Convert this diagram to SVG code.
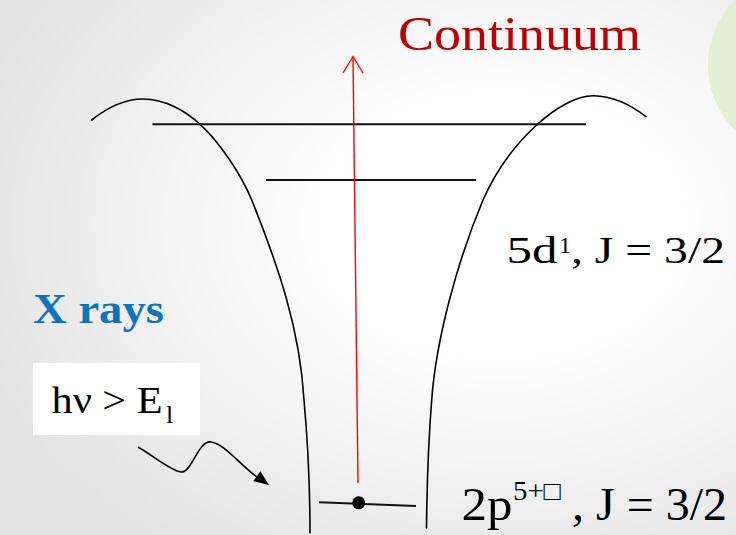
<svg xmlns="http://www.w3.org/2000/svg" width="736" height="535" viewBox="0 0 736 535">
  <defs>
    <radialGradient id="bg" cx="0.68" cy="0.42" r="0.75">
      <stop offset="0.3" stop-color="#ffffff"/>
      <stop offset="1" stop-color="#e3e3e3"/>
    </radialGradient>
  </defs>
  <style>
    .serif { font-family: "Liberation Serif", "Times New Roman", serif; }
    .curve { fill: none; stroke: #000; stroke-width: 1.6; stroke-linecap: round; }
    .level { fill: none; stroke: #111; stroke-width: 2; }
    .lbl { font-size: 38px; fill: #000; }
    .big { font-size: 46px; fill: #000; }
  </style>
  <rect x="0" y="0" width="736" height="535" fill="url(#bg)"/>
  <circle cx="800" cy="65" r="92" fill="#e2efd0"/>

  <g id="well-left">
    <path class="curve" d="M91.7,120 C108,107 125,99 143,99 C165,99 186,111 200,124.3 C218,140 241,174 251.7,200 C279,268 300,330 304,400 C308,444 310,490 310,533"/>
  </g>
  <g id="well-right">
    <path class="curve" d="M646,116.7 C630,104 612,96 593.3,95.7 C560,95.7 508,143 483,200 C457,262 436,340 431.7,400 C428.5,440 427,480 426.5,528"/>
  </g>

  <g id="level-top">
    <line class="level" x1="152.5" y1="124.3" x2="586" y2="124.3"/>
  </g>
  <g id="level-5d">
    <line class="level" x1="266" y1="180" x2="476" y2="180"/>
  </g>
  <g id="level-2p">
    <line class="level" x1="319" y1="502.3" x2="416" y2="506"/>
    <circle cx="358.7" cy="502.8" r="6.5" fill="#000"/>
  </g>

  <g id="label-continuum">
    <text class="serif" x="398" y="49.5" font-size="48" fill="#c00000" textLength="243" lengthAdjust="spacingAndGlyphs">Continuum</text>
  </g>
  <g id="label-5d">
    <text class="serif lbl" x="506.5" y="263" textLength="51" lengthAdjust="spacingAndGlyphs">5d</text>
    <text class="serif" x="559" y="253" font-size="24" fill="#000">1</text>
    <text class="serif lbl" x="571" y="263" textLength="154" lengthAdjust="spacingAndGlyphs">, J = 3/2</text>
  </g>
  <g id="label-2p">
    <text class="serif big" x="461.5" y="520" textLength="51" lengthAdjust="spacingAndGlyphs">2p</text>
    <text class="serif" x="513" y="500" font-size="27" fill="#000" textLength="48" lengthAdjust="spacingAndGlyphs">5+□</text>
    <text class="serif big" x="572" y="520" textLength="155" lengthAdjust="spacingAndGlyphs">, J = 3/2</text>
  </g>
  <g id="label-xrays">
    <text class="serif" x="33" y="323" font-size="42" font-weight="bold" fill="#0f72bd" textLength="131" lengthAdjust="spacingAndGlyphs">X rays</text>
  </g>
  <g id="box-hv">
    <rect x="33" y="363" width="167" height="72" fill="#ffffff"/>
    <text class="serif lbl" x="51.5" y="413.3" textLength="111" lengthAdjust="spacingAndGlyphs">hν &gt; E</text>
    <text class="serif" x="166" y="423" font-size="26" fill="#000">l</text>
  </g>

  <g id="connectors">
    <g id="excitation-arrow" stroke="#ff0000" stroke-width="1.4" fill="none">
      <line x1="358" y1="483" x2="353" y2="57"/>
      <polyline points="343,73 353,56.5 363,73"/>
    </g>
    <g id="xray-photon">
      <path d="M138,447 C155,457 170,470 181,472 C192,473 198,440 211,442 C225,444 240,465 257,477" fill="none" stroke="#000" stroke-width="1.6"/>
      <polygon points="269,485 253.4,481.1 260.4,471.3" fill="#000"/>
    </g>
  </g>
</svg>
